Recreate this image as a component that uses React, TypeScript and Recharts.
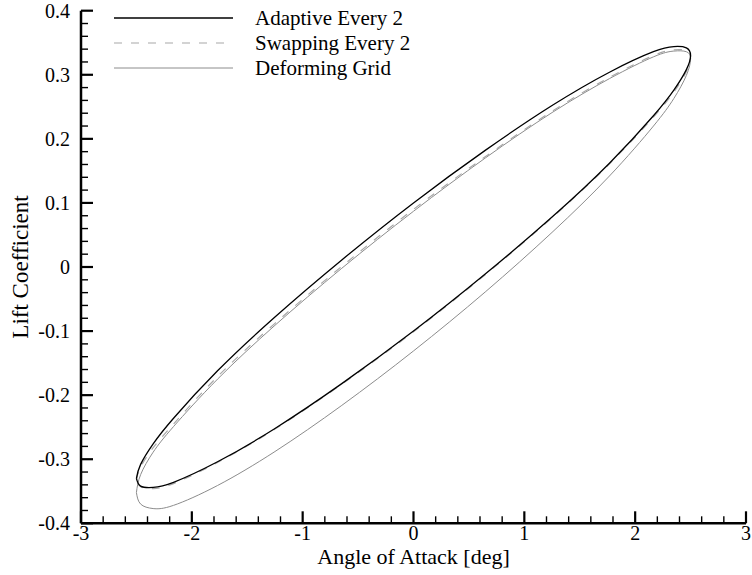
import React from 'react';
import { LineChart, Line, XAxis, YAxis, Customized } from 'recharts';

// angle of attack samples around one pitching cycle (deg)
const alphaDeg = [
  -2.5, -2.462, -2.349, -2.165, -1.768, -1.25, -0.647, 0, 0.647, 1.25, 1.768, 2.165, 2.349, 2.462, 2.5,
  2.462, 2.349, 2.165, 1.768, 1.25, 0.647, 0, -0.647, -1.25, -1.768, -2.165, -2.349, -2.462, -2.5,
];

const adaptiveCl = [
  -0.33, -0.308, -0.276, -0.236, -0.162, -0.078, 0.011, 0.1, 0.182, 0.252, 0.304, 0.336, 0.344, 0.342, 0.33,
  0.308, 0.276, 0.236, 0.162, 0.078, -0.011, -0.1, -0.182, -0.252, -0.304, -0.336, -0.344, -0.342, -0.33,
];

const swappingCl = [
  -0.332, -0.312, -0.282, -0.245, -0.171, -0.088, 0.001, 0.09, 0.172, 0.243, 0.296, 0.33, 0.339, 0.338, 0.328,
  0.305, 0.273, 0.234, 0.161, 0.077, -0.012, -0.101, -0.183, -0.253, -0.305, -0.338, -0.346, -0.343, -0.332,
];

const deformingCl = [
  -0.352, -0.324, -0.289, -0.249, -0.175, -0.091, -0.002, 0.087, 0.17, 0.241, 0.294, 0.328, 0.337, 0.336, 0.325,
  0.299, 0.263, 0.22, 0.142, 0.054, -0.039, -0.131, -0.216, -0.288, -0.341, -0.372, -0.377, -0.37, -0.352,
];

const xTicks = [
  -3, -2.8, -2.6, -2.4, -2.2, -2, -1.8, -1.6, -1.4, -1.2, -1, -0.8, -0.6, -0.4, -0.2, 0,
  0.2, 0.4, 0.6, 0.8, 1, 1.2, 1.4, 1.6, 1.8, 2, 2.2, 2.4, 2.6, 2.8, 3,
];

const yTicks = [
  -0.4, -0.38, -0.36, -0.34, -0.32, -0.3, -0.28, -0.26, -0.24, -0.22, -0.2, -0.18, -0.16, -0.14, -0.12, -0.1,
  -0.08, -0.06, -0.04, -0.02, 0, 0.02, 0.04, 0.06, 0.08, 0.1, 0.12, 0.14, 0.16, 0.18, 0.2, 0.22, 0.24, 0.26,
  0.28, 0.3, 0.32, 0.34, 0.36, 0.38, 0.4,
];

const zip = (cl: number[]) => alphaDeg.map((a, i) => ({ a, cl: cl[i] }));
const adaptiveData = zip(adaptiveCl);
const swappingData = zip(swappingCl);
const deformingData = zip(deformingCl);

const FONT = '"Liberation Serif", "Times New Roman", serif';
const GAP = 4;

const isMajor = (v: number, step: number) => Math.abs(v / step - Math.round(v / step)) < 1e-6;

const YTick = ({ x, y, payload }: any) => {
  const v = payload.value;
  const major = isMajor(v, 0.1);
  const ax = x + GAP;
  return (
    <g>
      <line x1={ax} x2={ax + (major ? 12 : 7)} y1={y} y2={y} stroke="#000" strokeWidth={major ? 2.2 : 1.4} />
      {major && (
        <text x={ax - 11} y={y} textAnchor="end" dominantBaseline="central" fontSize={20} fill="#000" fontFamily={FONT}>
          {v === 0 ? '0' : v.toFixed(1)}
        </text>
      )}
    </g>
  );
};

const XTick = ({ x, y, payload }: any) => {
  const v = payload.value;
  const major = isMajor(v, 1);
  const ay = y - GAP;
  return (
    <g>
      <line x1={x} x2={x} y1={ay} y2={ay - (major ? 12 : 7)} stroke="#000" strokeWidth={major ? 2.2 : 1.4} />
      {major && (
        <text x={x} y={ay + 17} textAnchor="middle" fontSize={20} fill="#000" fontFamily={FONT}>
          {String(v)}
        </text>
      )}
    </g>
  );
};

const Overlay = () => (
  <g fontFamily={FONT} fill="#000">
    <text x={413.5} y={564} textAnchor="middle" fontSize={22}>Angle of Attack [deg]</text>
    <text x={28} y={267} textAnchor="middle" fontSize={23} transform="rotate(-90, 28, 267)">Lift Coefficient</text>
    <line x1={114} x2={233} y1={18} y2={18} stroke="#000" strokeWidth={1.3} />
    <text x={255} y={18} dominantBaseline="central" fontSize={21}>Adaptive Every 2</text>
    <line x1={114} x2={233} y1={43} y2={43} stroke="#a8a8a8" strokeWidth={1.2} strokeDasharray="8 9" />
    <text x={255} y={43} dominantBaseline="central" fontSize={21}>Swapping Every 2</text>
    <line x1={114} x2={233} y1={68} y2={68} stroke="#8c8c8c" strokeWidth={1} />
    <text x={255} y={68} dominantBaseline="central" fontSize={21}>Deforming Grid</text>
  </g>
);

export default function App() {
  return (
    <div style={{ position: 'absolute', left: 0, top: 0, background: '#fff' }}>
      <LineChart width={752} height={575} margin={{ top: 10.7, right: 6, bottom: 11.7, left: 21 }}>
        <XAxis
          type="number"
          dataKey="a"
          domain={[-3, 3]}
          ticks={xTicks}
          interval={0}
          height={40}
          tickSize={0}
          tickMargin={GAP}
          tick={<XTick />}
          axisLine={{ stroke: '#000', strokeWidth: 2.5 }}
          allowDataOverflow
        />
        <YAxis
          type="number"
          domain={[-0.4, 0.4]}
          ticks={yTicks}
          interval={0}
          width={60}
          tickSize={0}
          tickMargin={GAP}
          tick={<YTick />}
          axisLine={{ stroke: '#000', strokeWidth: 2.5 }}
          allowDataOverflow
        />
        <Line data={deformingData} dataKey="cl" type="natural" stroke="#8c8c8c" strokeWidth={1} dot={false} isAnimationActive={false} />
        <Line data={swappingData} dataKey="cl" type="natural" stroke="#a8a8a8" strokeWidth={1.2} strokeDasharray="8 9" dot={false} isAnimationActive={false} />
        <Line data={adaptiveData} dataKey="cl" type="natural" stroke="#000" strokeWidth={1.3} dot={false} isAnimationActive={false} />
        <Customized component={Overlay} />
      </LineChart>
    </div>
  );
}
